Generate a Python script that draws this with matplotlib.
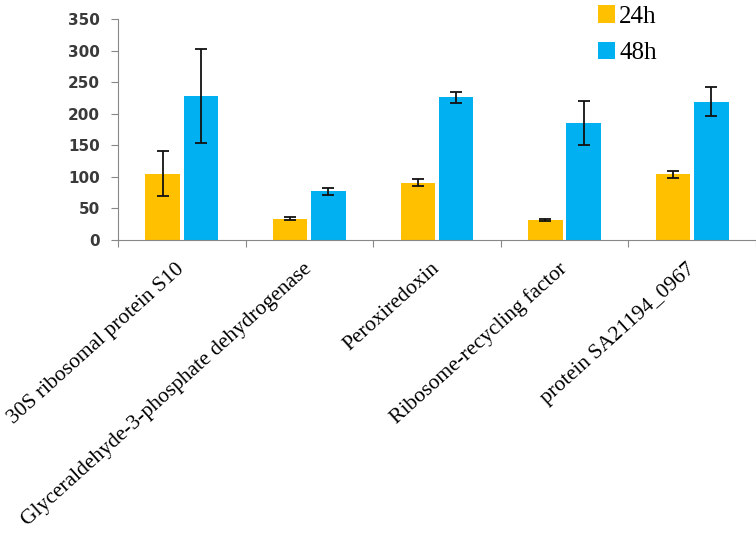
import numpy as np
import matplotlib
matplotlib.use('Agg')
import matplotlib.pyplot as plt
from matplotlib.ticker import FixedLocator, NullFormatter

proteins = ['30S ribosomal protein S10',
            'Glyceraldehyde-3-phosphate dehydrogenase',
            'Peroxiredoxin',
            'Ribosome-recycling factor',
            'protein SA21194_0967']
h24 = [105, 34, 91, 32, 104]
h24_err = [36, 3, 6, 2, 6]
h48 = [228, 77, 226, 185, 219]
h48_err = [75, 5, 9, 35, 23]

x = np.arange(len(proteins))
w = 0.27

fig = plt.figure(figsize=(7.56, 5.43), dpi=100)
ax = fig.add_axes([0.156, 0.558, 0.844, 0.407])

err_kw = dict(ecolor='#111111', elinewidth=1.3, capsize=4, capthick=1.3)
ax.bar(x - 0.15, h24, w, yerr=h24_err, color='#FFC000', label='24h', error_kw=err_kw)
ax.bar(x + 0.15, h48, w, yerr=h48_err, color='#00B0F0', label='48h', error_kw=err_kw)

ax.set_xlim(-0.5, len(proteins) - 0.5)
ax.set_ylim(0, 350)
ax.set_yticks(range(0, 351, 50))
for s in ['top', 'right']:
    ax.spines[s].set_visible(False)
for s in ['left', 'bottom']:
    ax.spines[s].set_color('#888888')
ax.tick_params(axis='y', colors='#888888', length=5, pad=8, labelsize=11,
               labelcolor='#3a3a3a')
for lab in ax.get_yticklabels():
    lab.set_fontweight('bold')

# ticks at category boundaries, labels at centres
ax.xaxis.set_major_locator(FixedLocator(np.arange(-0.5, len(proteins), 1)))
ax.xaxis.set_major_formatter(NullFormatter())
ax.tick_params(axis='x', which='major', colors='#888888', length=5)
ax.set_xticks(x, minor=True)
ax.set_xticklabels(proteins, minor=True, rotation=42, ha='right', va='center',
                   rotation_mode='anchor', family='Liberation Serif', fontsize=15.5)
ax.tick_params(axis='x', which='minor', length=0, pad=19)

ax.legend(loc='upper left', bbox_to_anchor=(0.791, 0.99), bbox_transform=fig.transFigure,
          frameon=False, borderpad=0, borderaxespad=0,
          prop={'family': 'Liberation Serif', 'size': 18},
          handlelength=0.7, handleheight=0.7, handletextpad=0.15, labelspacing=0.55)

fig.savefig('out.png', dpi=100)
